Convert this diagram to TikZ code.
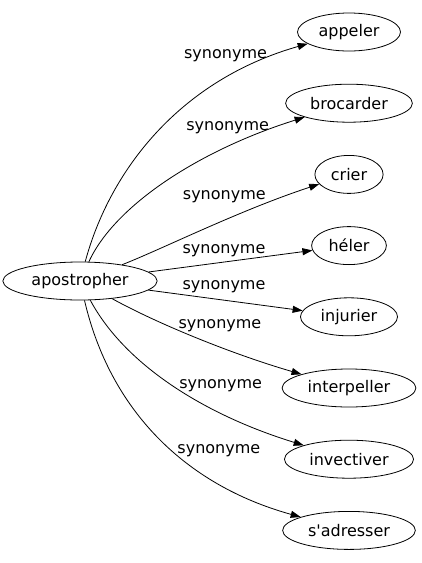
\documentclass[tikz,border=0pt]{standalone}
\usepackage{fontspec}
\setmainfont{DejaVu Sans}
\usepackage{tikz}
\usetikzlibrary{shapes.geometric, arrows.meta, positioning}
\tikzstyle{arrow} = [line width=0.8pt,-{Triangle[length=10pt,width=7pt]}]
\tikzstyle{word} = [draw,ellipse,line width=0.8pt,inner xsep=6pt,inner ysep=0pt,minimum height=38pt,font=\fontsize{16}{19}\selectfont]
\tikzstyle{rel} = [inner sep=1pt,font=\fontsize{16}{19}\selectfont]

\begin{document}
\begin{tikzpicture}[x=1pt,y=1pt,node distance=71.2pt,on grid]
    \useasboundingbox (0,0) rectangle (422,-563);
   	\node[word](w_0) at (80,-281){apostropher};
   	\node[word](w_1) at (349,-32){appeler};
   	\node[word](w_2)[below=of w_1]{brocarder};
   	\node[word](w_3)[below=of w_2]{crier};
   	\node[word](w_4)[below=of w_3]{héler};
   	\node[word](w_5)[below=of w_4]{injurier};
   	\node[word](w_6)[below=of w_5]{interpeller};
   	\node[word](w_7)[below=of w_6]{invectiver};
   	\node[word](w_8)[below=of w_7]{s\textquotesingle adresser};
    \draw[arrow] (w_0) .. controls (110,-170) and (180,-80) .. node[rel,pos=.76,yshift=23pt]{synonyme} (w_1);
    \draw[arrow] (w_0) .. controls (115,-205) and (200,-150) .. node[rel,pos=.74,yshift=19pt]{synonyme} (w_2);
    \draw[arrow] (w_0) .. controls (160,-250) and (240,-210) .. node[rel,pos=.59,yshift=24pt]{synonyme} (w_3);
    \draw[arrow] (w_0) -- node[rel,pos=.46,yshift=11pt]{synonyme} (w_4);
    \draw[arrow] (w_0) -- node[rel,pos=.49,yshift=13pt]{synonyme} (w_5);
    \draw[arrow] (w_0) .. controls (160,-325) and (235,-355) .. node[rel,pos=.6,yshift=21pt]{synonyme} (w_6);
    \draw[arrow] (w_0) .. controls (125,-365) and (205,-415) .. node[rel,pos=.7,yshift=27pt]{synonyme} (w_7);
    \draw[arrow] (w_0) .. controls (110,-410) and (185,-485) .. node[rel,pos=.74,yshift=33pt]{synonyme} (w_8);
\end{tikzpicture}
\end{document}
